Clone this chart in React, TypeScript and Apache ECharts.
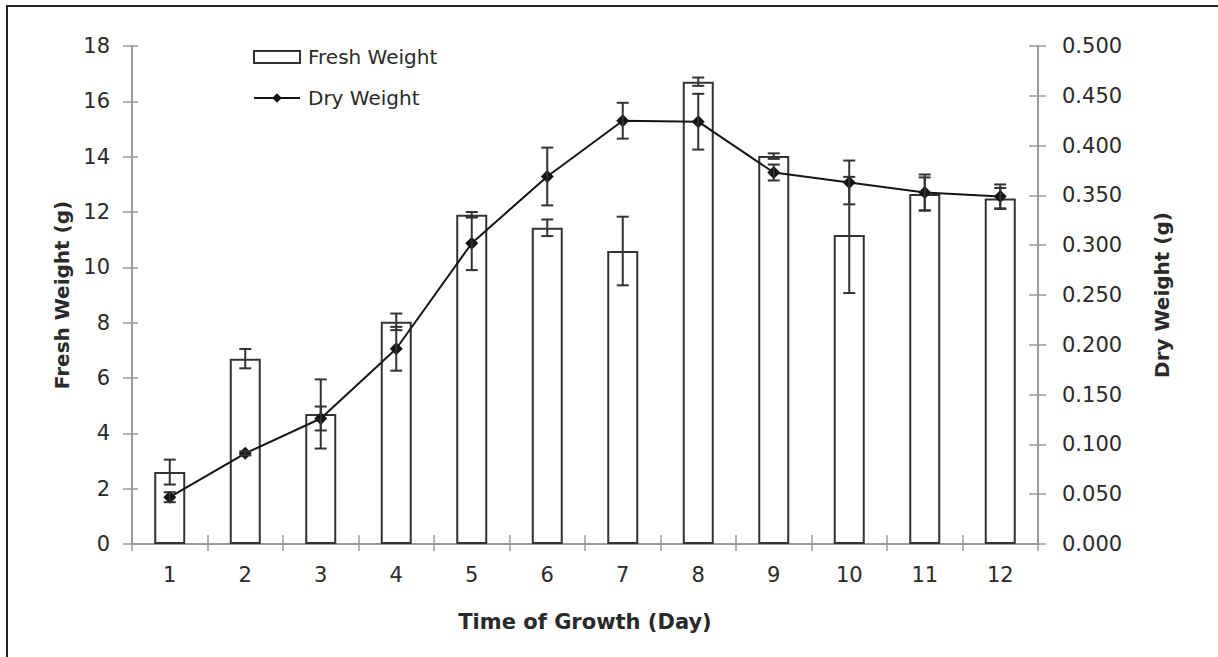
import React, { useEffect, useRef } from "react";
import * as echarts from "echarts";

const days = ["1", "2", "3", "4", "5", "6", "7", "8", "9", "10", "11", "12"];
const freshWeight = [2.6, 6.7, 4.7, 8.03, 11.9, 11.43, 10.59, 16.71, 14.02, 11.17, 12.65, 12.49];
const freshErr = [0.45, 0.35, 1.25, 0.3, 0.1, 0.3, 1.24, 0.15, 0.1, 2.1, 0.6, 0.38];
const dryWeight = [0.047, 0.091, 0.126, 0.196, 0.302, 0.369, 0.425, 0.424, 0.373, 0.363, 0.353, 0.349];
const dryErr = [0.005, 0.002, 0.012, 0.022, 0.027, 0.029, 0.018, 0.028, 0.008, 0.022, 0.018, 0.012];

const FONT = "DejaVu Sans";
const TEXT = "#2a2a2a";
const AXIS = "#9a9a9a";

function errorRender(params: any, api: any) {
  const x = api.value(0);
  const lo = api.value(1);
  const hi = api.value(2);
  const pHi = api.coord([x, hi]);
  const pLo = api.coord([x, lo]);
  const w = 6;
  const style = { stroke: "#333", lineWidth: 2 };
  return {
    type: "group",
    children: [
      { type: "line", shape: { x1: pHi[0], y1: pHi[1], x2: pLo[0], y2: pLo[1] }, style },
      { type: "line", shape: { x1: pHi[0] - w, y1: pHi[1], x2: pHi[0] + w, y2: pHi[1] }, style },
      { type: "line", shape: { x1: pLo[0] - w, y1: pLo[1], x2: pLo[0] + w, y2: pLo[1] }, style },
    ],
  };
}

export default function App() {
  const ref = useRef<HTMLDivElement>(null);
  useEffect(() => {
    if (!ref.current) return;
    const chart = echarts.init(ref.current, undefined, { renderer: "svg" });
    const freshErrData = freshWeight.map((v, i) => [i, v - freshErr[i], v + freshErr[i]]);
    const dryErrData = dryWeight.map((v, i) => [i, v - dryErr[i], v + dryErr[i]]);
    chart.setOption({
      animation: false,
      backgroundColor: "#ffffff",
      textStyle: { fontFamily: FONT },
      grid: { left: 132, right: 180, top: 46, bottom: 113 },
      legend: {
        orient: "vertical",
        left: 253,
        top: 47,
        padding: 0,
        itemWidth: 46,
        itemHeight: 12,
        itemGap: 21,
        data: [
          { name: "Fresh Weight", icon: "rect" },
          { name: "Dry Weight" },
        ],
        textStyle: { fontSize: 20, color: TEXT, fontFamily: FONT, padding: [0, 0, 0, 3] },
      },
      graphic: [
        {
          type: "rect",
          silent: true,
          shape: { x: 7, y: 6, width: 1400, height: 800 },
          style: { fill: "none", stroke: "#222", lineWidth: 2 },
        },
      ],
      xAxis: [
        {
          type: "category",
          data: days,
          boundaryGap: true,
          position: "bottom",
          axisLine: { show: true, lineStyle: { color: AXIS, width: 2 } },
          axisTick: { show: true, length: 7, lineStyle: { color: AXIS, width: 1.5 } },
          axisLabel: { fontSize: 21, color: TEXT, margin: 20, fontFamily: FONT },
          name: "Time of Growth (Day)",
          nameLocation: "middle",
          nameGap: 67,
          nameTextStyle: { fontSize: 21, fontWeight: "bold", color: TEXT, fontFamily: FONT },
          splitLine: { show: false },
        },
        {
          type: "category",
          data: days,
          boundaryGap: true,
          position: "bottom",
          offset: 0,
          axisLine: { show: false },
          axisTick: { show: true, inside: true, length: 9, lineStyle: { color: AXIS, width: 1.5 } },
          axisLabel: { show: false },
          splitLine: { show: false },
        },
      ],
      yAxis: [
        {
          type: "value",
          position: "left",
          min: 0,
          max: 18,
          interval: 2,
          axisLine: { show: true, lineStyle: { color: AXIS, width: 2 } },
          axisTick: { show: true, length: 9, lineStyle: { color: AXIS, width: 1.5 } },
          axisLabel: { fontSize: 21, color: TEXT, margin: 22, fontFamily: FONT },
          splitLine: { show: false },
          name: "Fresh Weight (g)",
          nameLocation: "middle",
          nameRotate: 90,
          nameGap: 57,
          nameTextStyle: { fontSize: 20, fontWeight: "bold", color: TEXT, fontFamily: FONT },
        },
        {
          type: "value",
          position: "right",
          min: 0,
          max: 0.5,
          interval: 0.05,
          axisLine: { show: true, lineStyle: { color: AXIS, width: 2 } },
          axisTick: { show: true, length: 8, lineStyle: { color: AXIS, width: 1.5 } },
          axisLabel: {
            fontSize: 21,
            color: TEXT,
            margin: 24,
            fontFamily: FONT,
            formatter: (v: number) => v.toFixed(3),
          },
          splitLine: { show: false },
          name: "Dry Weight (g)",
          nameLocation: "middle",
          nameRotate: 90,
          nameGap: 114,
          nameTextStyle: { fontSize: 20, fontWeight: "bold", color: TEXT, fontFamily: FONT },
        },
        {
          type: "value",
          position: "left",
          min: 0,
          max: 18,
          interval: 2,
          axisLine: { show: false },
          axisTick: { show: true, inside: true, length: 6, lineStyle: { color: AXIS, width: 1.5 } },
          axisLabel: { show: false },
          splitLine: { show: false },
        },
        {
          type: "value",
          position: "right",
          min: 0,
          max: 0.5,
          interval: 0.05,
          axisLine: { show: false },
          axisTick: { show: true, inside: true, length: 9, lineStyle: { color: AXIS, width: 1.5 } },
          axisLabel: { show: false },
          splitLine: { show: false },
        },
      ],
      series: [
        {
          name: "Fresh Weight",
          type: "bar",
          xAxisIndex: 0,
          yAxisIndex: 0,
          data: freshWeight,
          barWidth: 31,
          z: 2,
          itemStyle: { color: "#ffffff", borderColor: "#333333", borderWidth: 2 },
        },
        {
          name: "freshErr",
          type: "custom",
          xAxisIndex: 0,
          yAxisIndex: 0,
          renderItem: errorRender,
          data: freshErrData,
          encode: { x: 0, y: [1, 2] },
          z: 3,
        },
        {
          name: "Dry Weight",
          type: "line",
          xAxisIndex: 0,
          yAxisIndex: 1,
          data: dryWeight,
          symbol: "diamond",
          symbolSize: 13,
          z: 4,
          lineStyle: { color: "#151515", width: 2 },
          itemStyle: { color: "#151515" },
        },
        {
          name: "dryErr",
          type: "custom",
          xAxisIndex: 0,
          yAxisIndex: 1,
          renderItem: errorRender,
          data: dryErrData,
          encode: { x: 0, y: [1, 2] },
          z: 5,
        },
      ],
    });
    return () => chart.dispose();
  }, []);
  return (
    <div
      ref={ref}
      style={{ position: "absolute", left: 0, top: 0, width: 1218, height: 657, background: "#fff" }}
    />
  );
}
